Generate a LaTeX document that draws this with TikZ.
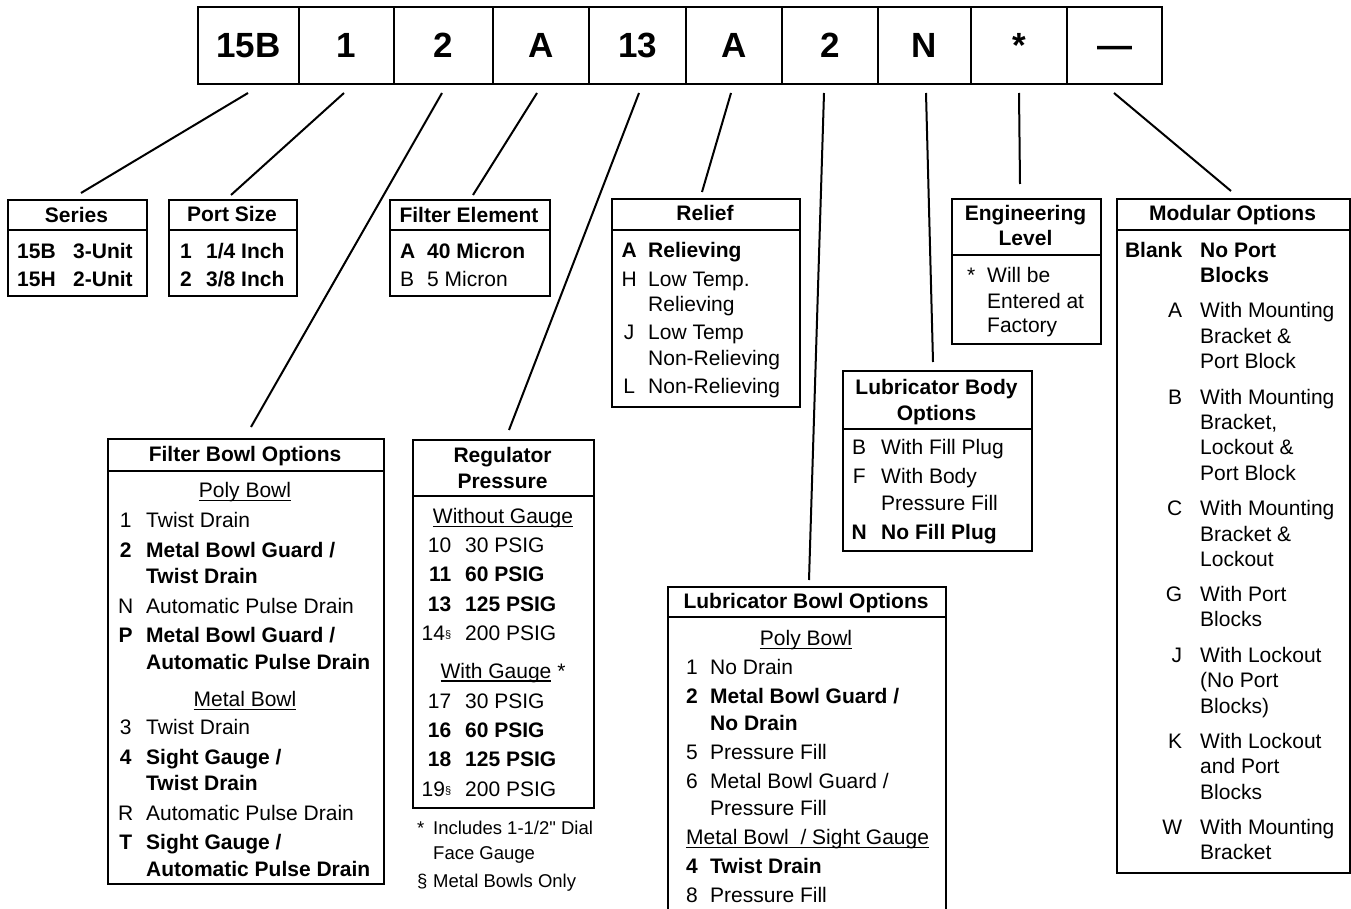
\documentclass[tikz,border=0pt]{standalone}
\usepackage{fontspec}
\setmainfont{Liberation Sans}[Ligatures=TeXOff]
\usepackage{array}
\usepackage{tikz}
\newcolumntype{C}[1]{>{\centering\arraybackslash}p{#1}}
\newcolumntype{R}[1]{>{\raggedleft\arraybackslash}p{#1}}
\newcolumntype{L}[1]{>{\raggedright\arraybackslash}p{#1}}
\newcommand{\secmark}{\raisebox{2pt}{\fontsize{11}{11}\selectfont\S}}
\newcommand{\uln}[1]{\setbox0\hbox{#1}\rlap{\rule[-3.5pt]{\wd0}{1.3pt}}\box0\relax}

\begin{document}
\begin{tikzpicture}[x=1pt, y=-1pt,
      frame/.style={draw, line width=2pt, anchor=north west, inner sep=0pt},
      codebox/.style={draw, line width=2pt, minimum height=77pt, inner sep=0pt,
                      text height=25pt, text depth=0pt,
                      font=\fontsize{35}{35}\selectfont\bfseries},
      title/.style={anchor=base, inner sep=0pt, font=\fontsize{21}{25.5}\selectfont\bfseries},
      subhead/.style={anchor=base, inner sep=0pt, font=\fontsize{21}{26}\selectfont},
      body/.style={anchor=base west, inner sep=0pt},
      rule/.style={line width=2pt},
      conn/.style={line width=2pt}
    ]
      \useasboundingbox (0,0) rectangle (1351,909);

      % model code row
      \foreach \lbl/\x/\w [count=\i] in {15B/248.5/101, 1/346.5/95, 2/443.5/99, A/541/96,
                                         13/637.5/97, A/734/96, 2/830/96, N/924.5/93,
                                         */1019/96, —/1114.5/95}{
        \node[codebox, minimum width=\w pt] (c\i) at (\x,45.5) {\lbl};
      }

      % option boxes
      \node[frame, minimum width=139pt, minimum height=96pt]  (series)  at (7,199)    {};
      \node[frame, minimum width=128pt, minimum height=96pt]  (port)    at (168,199)  {};
      \node[frame, minimum width=160pt, minimum height=96pt]  (felem)   at (389,199)  {};
      \node[frame, minimum width=188pt, minimum height=208pt] (relief)  at (611,198)  {};
      \node[frame, minimum width=149pt, minimum height=145pt] (eng)     at (951,198)  {};
      \node[frame, minimum width=233pt, minimum height=674pt] (modular) at (1116,198) {};
      \node[frame, minimum width=189pt, minimum height=180pt] (lubbody) at (842,370)  {};
      \node[frame, minimum width=276pt, minimum height=445pt] (fbowl)   at (107,438)  {};
      \node[frame, minimum width=181pt, minimum height=368pt] (reg)     at (412,439)  {};
      \node[frame, minimum width=278pt, minimum height=326pt] (lubbowl) at (667,586)  {};

      \foreach \b/\d in {series/31, port/31, felem/31, relief/32, eng/57, modular/32,
                         lubbody/59, fbowl/33, reg/57, lubbowl/31}{
        \draw[rule] ([yshift=-\d pt]\b.north west) -- ([yshift=-\d pt]\b.north east);
      }

      % titles
      \node[title] (seriest)  at (76.5,222.5)  {Series};
      \node[title] (portt)    at (232,222)     {Port Size};
      \node[title] (felemt)   at (469,222.5)   {Filter Element};
      \node[title] (relieft)  at (705,220.5)   {Relief};
      \node[title] (engt)     at (1025.5,220.5) {\begin{tabular}[t]{@{}c@{}}Engineering\\Level\end{tabular}};
      \node[title] (modulart) at (1232.5,220.5) {Modular Options};
      \node[title] (lubbodyt) at (936.5,394.5) {\begin{tabular}[t]{@{}c@{}}Lubricator Body\\Options\end{tabular}};
      \node[title] (fbowlt)   at (245,461.5)   {Filter Bowl Options};
      \node[title] (regt)     at (502.5,462.5) {\begin{tabular}[t]{@{}c@{}}Regulator\\Pressure\end{tabular}};
      \node[title] (lubbowlt) at (806,608)     {Lubricator Bowl Options};

      % contents
      \node[body, font=\fontsize{21}{26}\selectfont] (seriesb) at (17,258.5) {%
        \begin{tabular}[t]{@{}L{56pt}@{}l@{}}
          \textbf{15B} & \textbf{3-Unit}\\[2pt]
          \textbf{15H} & \textbf{2-Unit}
        \end{tabular}};
      \node[body, font=\fontsize{21}{26}\selectfont] (portb) at (180,258.5) {%
        \begin{tabular}[t]{@{}L{26pt}@{}l@{}}
          \textbf{1} & \textbf{1/4 Inch}\\[2pt]
          \textbf{2} & \textbf{3/8 Inch}
        \end{tabular}};
      \node[body, font=\fontsize{21}{26}\selectfont] (felemb) at (400,258.5) {%
        \begin{tabular}[t]{@{}L{27pt}@{}l@{}}
          \textbf{A} & \textbf{40 Micron}\\[2pt]
          B & 5 Micron
        \end{tabular}};
      \node[body, font=\fontsize{21}{25.5}\selectfont] (reliefb) at (615,257.5) {%
        \begin{tabular}[t]{@{}C{28pt}@{\hspace{5pt}}l@{}}
          \textbf{A} & \textbf{Relieving}\\[3pt]
          H & Low Temp.\\
            & Relieving\\[3pt]
          J & Low Temp\\
            & Non-Relieving\\[3pt]
          L & Non-Relieving
        \end{tabular}};
      \node[body, font=\fontsize{21}{25}\selectfont] (engb) at (967,283) {%
        \begin{tabular}[t]{@{}L{20pt}@{}l@{}}
          * & Will be\\
            & Entered at\\
            & Factory
        \end{tabular}};
      \node[body, font=\fontsize{21}{25.5}\selectfont] (modularb) at (1120,257.5) {%
        \begin{tabular}[t]{@{}R{62pt}@{\hspace{18pt}}l@{}}
          \textbf{Blank} & \textbf{No Port}\\
                         & \textbf{Blocks}\\[9.5pt]
          A & With Mounting\\
            & Bracket \&\\
            & Port Block\\[9.5pt]
          B & With Mounting\\
            & Bracket,\\
            & Lockout \&\\
            & Port Block\\[9.5pt]
          C & With Mounting\\
            & Bracket \&\\
            & Lockout\\[9.5pt]
          G & With Port\\
            & Blocks\\[9.5pt]
          J & With Lockout\\
            & (No Port\\
            & Blocks)\\[9.5pt]
          K & With Lockout\\
            & and Port\\
            & Blocks\\[9.5pt]
          W & With Mounting\\
            & Bracket
        \end{tabular}};
      \node[body, font=\fontsize{21}{26.5}\selectfont] (lubbodyb) at (848,454.5) {%
        \begin{tabular}[t]{@{}C{22pt}@{\hspace{11pt}}l@{}}
          B & With Fill Plug\\[2.5pt]
          F & With Body\\
            & Pressure Fill\\[2.5pt]
          \textbf{N} & \textbf{No Fill Plug}
        \end{tabular}};

      % filter bowl
      \node[subhead] (fbpoly) at (245,497.5) {\uln{Poly Bowl}};
      \node[body, font=\fontsize{21}{26.5}\selectfont] (fbpolyb) at (116,527.5) {%
        \begin{tabular}[t]{@{}C{19pt}@{\hspace{11pt}}l@{}}
          1 & Twist Drain\\[3pt]
          \textbf{2} & \textbf{Metal Bowl Guard /}\\
                     & \textbf{Twist Drain}\\[3pt]
          N & Automatic Pulse Drain\\[3pt]
          \textbf{P} & \textbf{Metal Bowl Guard /}\\
                     & \textbf{Automatic Pulse Drain}
        \end{tabular}};
      \node[subhead] (fbmetal) at (245,706.5) {\uln{Metal Bowl}};
      \node[body, font=\fontsize{21}{26.5}\selectfont] (fbmetalb) at (116,734.5) {%
        \begin{tabular}[t]{@{}C{19pt}@{\hspace{11pt}}l@{}}
          3 & Twist Drain\\[3pt]
          \textbf{4} & \textbf{Sight Gauge /}\\
                     & \textbf{Twist Drain}\\[3pt]
          R & Automatic Pulse Drain\\[3pt]
          \textbf{T} & \textbf{Sight Gauge /}\\
                     & \textbf{Automatic Pulse Drain}
        \end{tabular}};

      % regulator
      \node[subhead] (regwo) at (503,523.5) {\uln{Without Gauge}};
      \node[body, font=\fontsize{21}{29.3}\selectfont] (regwob) at (421,552.5) {%
        \begin{tabular}[t]{@{}R{30pt}@{\hspace{14pt}}l@{}}
          10 & 30 PSIG\\
          \textbf{11} & \textbf{60 PSIG}\\
          \textbf{13} & \textbf{125 PSIG}\\
          14\secmark & 200 PSIG
        \end{tabular}};
      \node[subhead] (regw) at (503,678.2) {\uln{With Gauge} *};
      \node[body, font=\fontsize{21}{29.3}\selectfont] (regwb) at (421,708.2) {%
        \begin{tabular}[t]{@{}R{30pt}@{\hspace{14pt}}l@{}}
          17 & 30 PSIG\\
          \textbf{16} & \textbf{60 PSIG}\\
          \textbf{18} & \textbf{125 PSIG}\\
          19\secmark & 200 PSIG
        \end{tabular}};
      \node[body, font=\fontsize{18.5}{24.7}\selectfont] (regnote) at (417,834.6) {%
        \begin{tabular}[t]{@{}L{16pt}@{}l@{}}
          *   & Includes 1-1/2" Dial\\
              & Face Gauge\\[3.3pt]
          \S  & Metal Bowls Only
        \end{tabular}};

      % lubricator bowl
      \node[subhead] (lbpoly) at (806,645.5) {\uln{Poly Bowl}};
      \node[body, font=\fontsize{21}{27}\selectfont] (lubbowlb) at (686,674.5) {%
        \begin{tabular}[t]{@{}L{24pt}@{}l@{}}
          1 & No Drain\\[2pt]
          \textbf{2} & \textbf{Metal Bowl Guard /}\\
                     & \textbf{No Drain}\\[2pt]
          5 & Pressure Fill\\[2pt]
          6 & Metal Bowl Guard /\\
            & Pressure Fill\\[2pt]
          \multicolumn{2}{@{}l@{}}{\uln{Metal Bowl\ \ / Sight Gauge}}\\[2pt]
          \textbf{4} & \textbf{Twist Drain}\\[2pt]
          8 & Pressure Fill
        \end{tabular}};

      % leader lines
      \foreach \a/\as/\b/\bs/\g in {c1/-0.5/series/3.5/6, c2/-2.5/port/-2/4, c3/-1.5/fbowl/5/11,
                                    c4/-4/felem/3/4, c5/1.5/reg/5.5/9, c6/-3/relief/-4/6,
                                    c7/-6/lubbowl/2/6, c8/1.5/lubbody/-4.5/8, c9/0/eng/-6.5/14,
                                    c10/-0.5/modular/-2.5/7}{
        \draw[conn] ([xshift=\as pt, yshift=-8pt]\a.south) -- ([xshift=\bs pt, yshift=\g pt]\b.north);
      }
\end{tikzpicture}
\end{document}
